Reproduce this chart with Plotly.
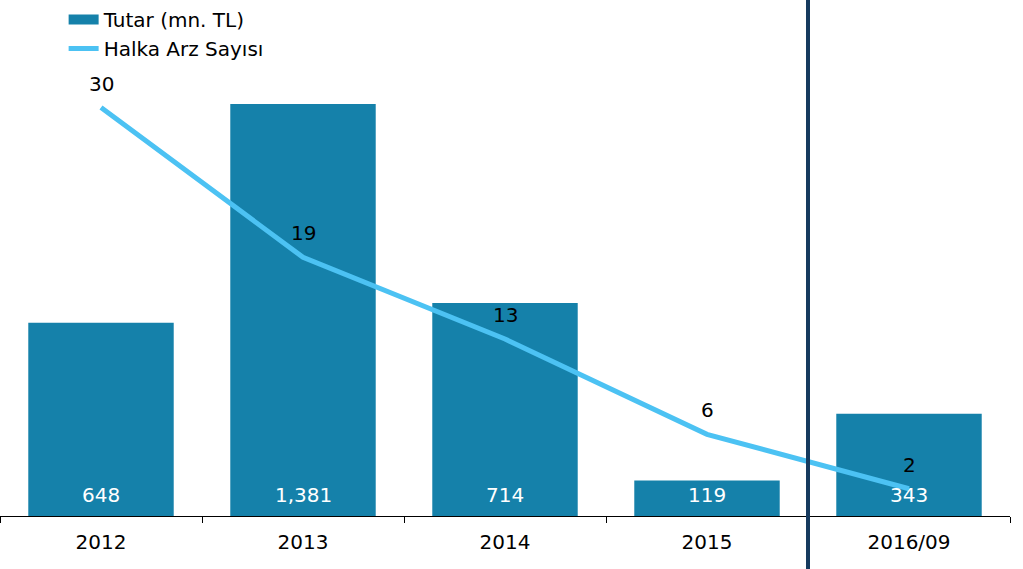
import plotly.graph_objects as go

years = ["2012", "2013", "2014", "2015", "2016/09"]
tutar = [648, 1381, 714, 119, 343]
halka_arz = [30, 19, 13, 6, 2]

FONT = "DejaVu Sans"
FS = 20
BAR_COLOR = "#1581aa"
LINE_COLOR = "#4cc2f3"

fig = go.Figure()
fig.add_trace(go.Bar(
    x=years, y=tutar, name="Tutar (mn. TL)",
    marker=dict(color=BAR_COLOR, line=dict(width=0)),
    showlegend=False, yaxis="y",
))
# legend swatch for bars (wide rectangle like the original)
fig.add_trace(go.Scatter(
    x=[None], y=[None], name="Tutar (mn. TL)", mode="lines",
    line=dict(color=BAR_COLOR, width=14), showlegend=True,
))
fig.add_trace(go.Scatter(
    x=years, y=halka_arz, name="Halka Arz Sayısı",
    mode="lines", line=dict(color=LINE_COLOR, width=5),
    yaxis="y2",
))
for i, (yv, tv) in enumerate(zip(halka_arz, tutar)):
    fig.add_annotation(x=i, y=yv, xref="x", yref="y2", text=str(yv), showarrow=False,
                       yshift=24, font=dict(size=FS, family=FONT, color="black"))
    fig.add_annotation(x=i, y=0, xref="x", yref="y", text=f"{tv:,}", showarrow=False,
                       yshift=21, font=dict(size=FS, family=FONT, color="white"))

fig.add_shape(type="line", xref="x", yref="paper", x0=3.5, x1=3.5, y0=-0.2, y1=1.05,
              line=dict(color="#163a5e", width=4))

fig.update_layout(
    width=1023, height=569,
    margin=dict(l=0, r=13, t=0, b=53),
    paper_bgcolor="white", plot_bgcolor="white",
    font=dict(family=FONT, size=FS, color="black"),
    bargap=0.28,
    showlegend=True,
    legend=dict(x=0.063, y=1.0, xanchor="left", yanchor="top",
                bgcolor="rgba(0,0,0,0)", font=dict(size=FS, family=FONT),
                tracegroupgap=0, itemwidth=30),
    xaxis=dict(type="category", showline=True, linecolor="black", linewidth=1,
               ticks="outside", tickson="boundaries", ticklen=6, tickcolor="black",
               showgrid=False, zeroline=False, range=[-0.5, 4.5],
               ticklabelstandoff=8,
               tickfont=dict(size=FS, family=FONT)),
    yaxis=dict(range=[0, 1730], visible=False, showgrid=False, zeroline=False),
    yaxis2=dict(range=[0, 37.9], overlaying="y", visible=False, showgrid=False, zeroline=False),
)

fig.write_html("out.html", config={"displayModeBar": False},
               post_script="document.body.style.margin='0';document.body.style.padding='0';")
